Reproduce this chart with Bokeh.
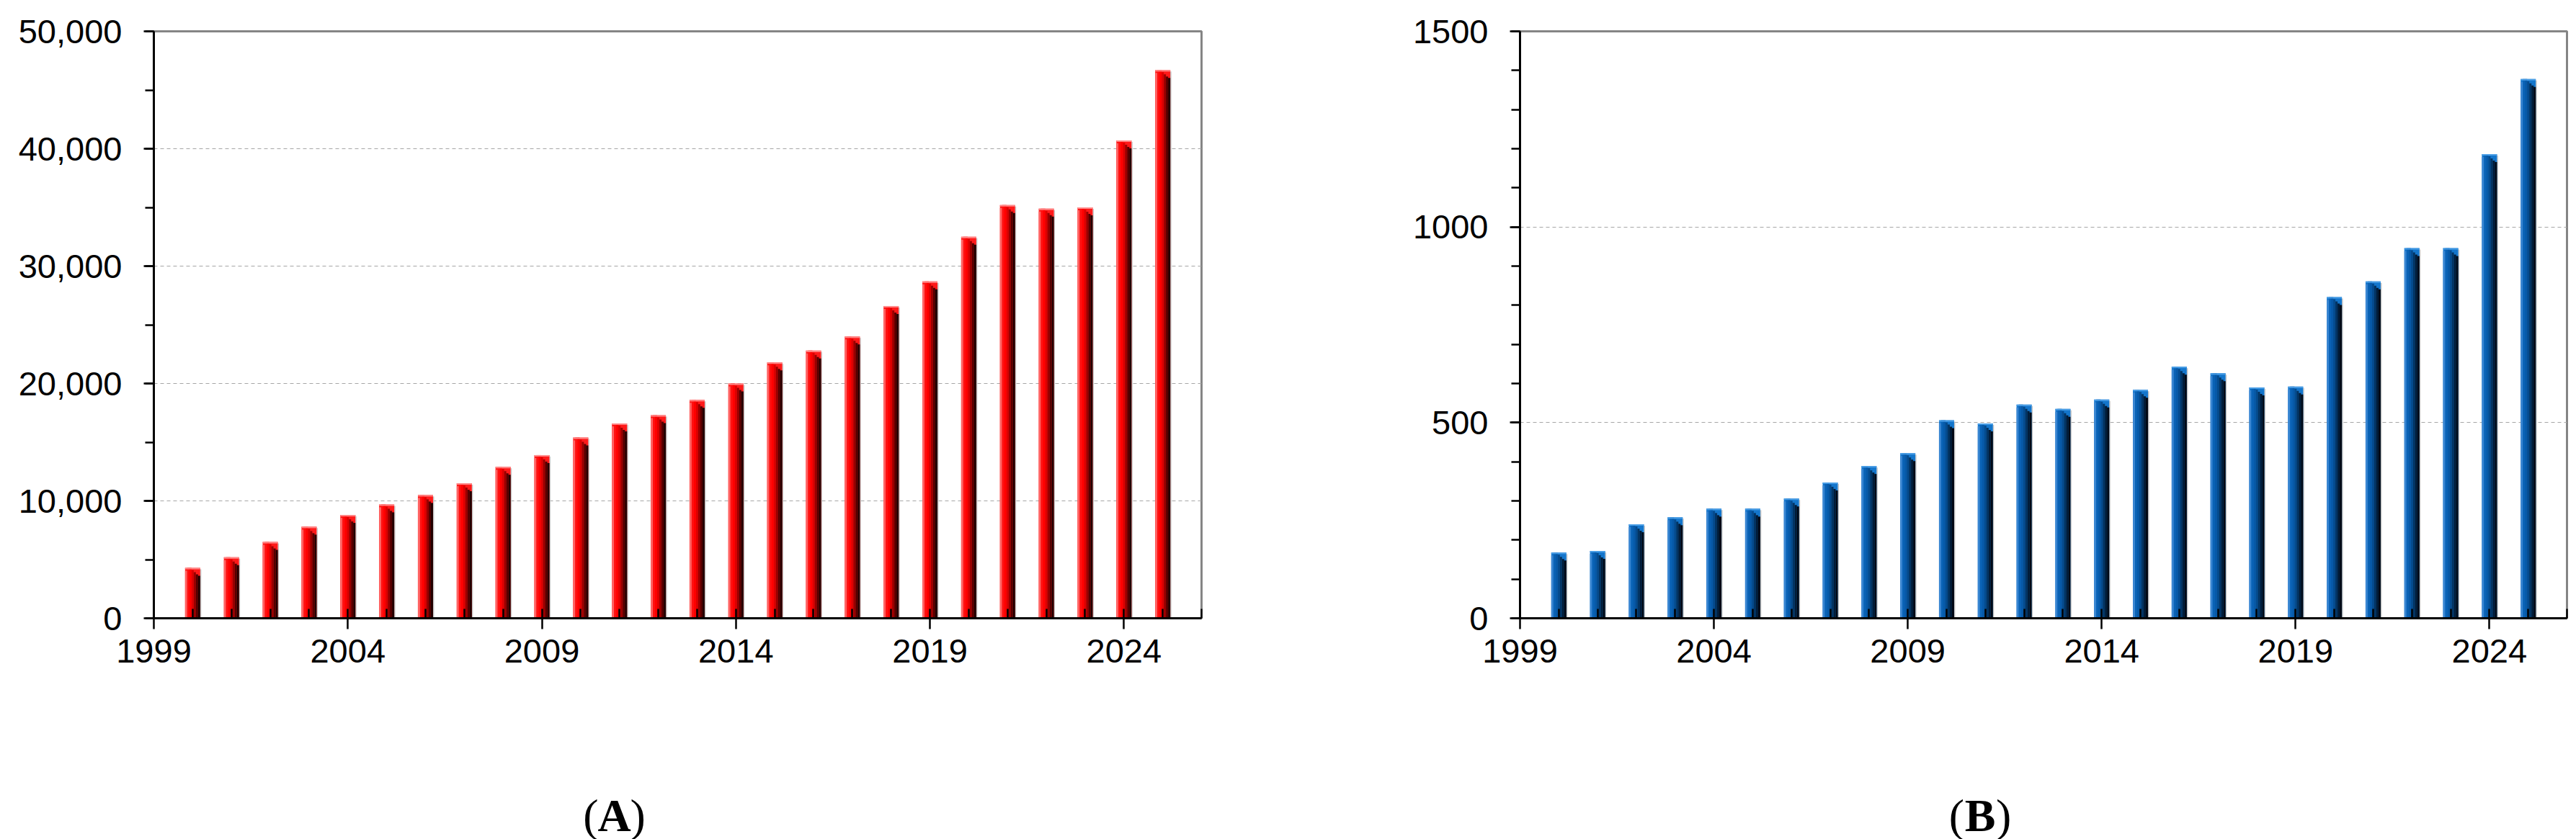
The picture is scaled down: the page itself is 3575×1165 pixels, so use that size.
from bokeh.plotting import figure
from bokeh.layouts import row, column
from bokeh.models import FixedTicker, NumeralTickFormatter, BasicTickFormatter, Range1d, ColumnDataSource
from bokeh.core.properties import value
from bokeh.transform import dodge
from bokeh.embed import file_html
from bokeh.resources import INLINE

# ---------------- data ----------------
years = list(range(2000, 2026))
papers_a = [4300, 5200, 6500, 7800, 8800, 9700, 10500, 11500, 12900, 13900,
            15400, 16600, 17300, 18600, 20000, 21800, 22800, 24000, 26600, 28700,
            32500, 35200, 34900, 35000, 40700, 46700]
papers_b = [168, 172, 240, 258, 280, 280, 306, 347, 389, 422,
            506, 498, 546, 535, 559, 584, 643, 626, 590, 592,
            821, 861, 946, 946, 1186, 1378]
x_major = [1999, 2004, 2009, 2014, 2019, 2024]
x_minor = list(range(2000, 2027))
y_major_a = [0, 10000, 20000, 30000, 40000, 50000]
y_minor_a = list(range(0, 50001, 5000))
y_major_b = [0, 500, 1000, 1500]
y_minor_b = list(range(0, 1501, 100))
panel_letters = ["A", "B"]

# ---------------- styling ----------------
TOTAL_H = 1165
TOP = 43
FRAME_H = 815
BOTTOM = 120
H = TOP + FRAME_H + BOTTOM
LAB_H = TOTAL_H - H
FONT = "Liberation Sans"
BW = 0.39
NS = 7

red_cols = ["#ff6464", "#ff1010", "#ff0000", "#dc0000", "#9a0000", "#560000", "#220000"]
red_drop = [4, 0, 0, 3, 6, 9, 11]
blue_cols = ["#3a86d2", "#0a62b5", "#0759a8", "#054b8e", "#033463", "#021c38", "#010915"]
blue_drop = [4, 0, 0, 3, 6, 9, 11]


def panel(vals, ymax, ymaj, ymin, fmt, cols, drops, base, topc,
          width, left, right):
    p = figure(width=width, height=H, output_backend="svg", toolbar_location=None,
               x_range=Range1d(1999, 2026), y_range=Range1d(0, ymax),
               min_border_left=left, min_border_right=right,
               min_border_top=TOP, min_border_bottom=BOTTOM)
    unit = ymax / FRAME_H
    data = dict(year=years, v=vals,
                shadow=[v - 2 * unit for v in vals],
                edge=[v - 2 * unit for v in vals])
    for i in range(NS):
        data["t%d" % i] = [v - drops[i] * unit for v in vals]
    src = ColumnDataSource(data)
    # shadow to the right
    p.vbar(x=dodge("year", BW / 2 + 0.014, range=None), top="shadow", bottom=0,
           width=0.028, source=src, fill_color="#c4c4c4", line_color=None)
    # base bright bar
    p.vbar(x="year", top="v", bottom=0, width=BW, source=src,
           fill_color=base, line_color=None)
    sw = BW / NS
    for i in range(NS):
        off = -BW / 2 + sw * (i + 0.5)
        p.vbar(x=dodge("year", off, range=None), top="t%d" % i, bottom=0, width=sw * 1.02,
               source=src, fill_color=cols[i], line_color=None)
    # light top edge
    p.vbar(x="year", top="v", bottom="edge", width=BW, source=src,
           fill_color=topc, line_color=None)

    p.outline_line_color = "#858585"
    p.outline_line_width = 3
    p.xgrid.visible = False
    p.ygrid.ticker = FixedTicker(ticks=ymaj)
    p.ygrid.grid_line_color = "#a6a6a6"
    p.ygrid.grid_line_dash = "5 4"
    p.ygrid.grid_line_width = 1.2

    xa = p.xaxis[0]
    xa.ticker = FixedTicker(ticks=x_major, minor_ticks=x_minor)
    xa.formatter = BasicTickFormatter(use_scientific=False)
    xa.axis_line_color = "black"
    xa.axis_line_width = 3
    xa.major_tick_in = 0
    xa.major_tick_out = 15
    xa.minor_tick_in = 13
    xa.minor_tick_out = 0
    xa.major_tick_line_width = 2.5
    xa.minor_tick_line_width = 2.5
    xa.major_tick_line_color = "black"
    xa.minor_tick_line_color = "black"
    xa.major_label_text_font = FONT
    xa.major_label_text_font_size = "47px"
    xa.major_label_text_color = "black"
    xa.major_label_standoff = 14

    ya = p.yaxis[0]
    ya.ticker = FixedTicker(ticks=ymaj, minor_ticks=ymin)
    ya.formatter = fmt
    ya.axis_line_color = "black"
    ya.axis_line_width = 3
    ya.major_tick_in = 0
    ya.major_tick_out = 14
    ya.minor_tick_in = 0
    ya.minor_tick_out = 12
    ya.major_tick_line_width = 2.5
    ya.minor_tick_line_width = 2.5
    ya.major_tick_line_color = "black"
    ya.minor_tick_line_color = "black"
    ya.major_label_text_font = FONT
    ya.major_label_text_font_size = "47px"
    ya.major_label_text_color = "black"
    ya.major_label_standoff = 30
    return p


FRAME_W = 1454


def caption(letter, width):
    # strip below a chart; its frame is aligned with the chart frame above,
    # so its x range is expressed in pixels of that frame
    c = figure(width=width, height=LAB_H, output_backend="svg", toolbar_location=None,
               x_axis_location=None, y_axis_location=None,
               x_range=Range1d(0, FRAME_W), y_range=Range1d(0, LAB_H),
               min_border=0, min_border_left=0, min_border_right=0,
               min_border_top=0, min_border_bottom=0)
    c.grid.visible = False
    c.outline_line_color = None
    cx = 639
    by = LAB_H - (1132 - H)
    c.text(x=[cx], y=[by], text=[letter], text_font=value("Liberation Serif"),
           text_font_style="bold", text_font_size="64px", text_align="center",
           text_baseline="alphabetic", text_color="black")
    c.text(x=[cx - 22], y=[by], text=["("], text_font=value("Liberation Serif"),
           text_font_size="64px", text_align="right",
           text_baseline="alphabetic", text_color="black")
    c.text(x=[cx + 22], y=[by], text=[")"], text_font=value("Liberation Serif"),
           text_font_size="64px", text_align="left",
           text_baseline="alphabetic", text_color="black")
    return c


W1, L1, R1 = 1788, 213, 121
W2, L2, R2 = 1787, 321, 13
p1 = panel(papers_a, 50000, y_major_a, y_minor_a, NumeralTickFormatter(format="0,0"),
           red_cols, red_drop, "#ff1a1a", "#ff8a8a", W1, L1, R1)
p2 = panel(papers_b, 1500, y_major_b, y_minor_b, BasicTickFormatter(use_scientific=False),
           blue_cols, blue_drop, "#1476cc", "#4a9ee6", W2, L2, R2)
c1 = caption(panel_letters[0], W1)
c2 = caption(panel_letters[1], W2)

layout = row(column(p1, c1), column(p2, c2))
open("out.html", "w").write(file_html(layout, INLINE))
